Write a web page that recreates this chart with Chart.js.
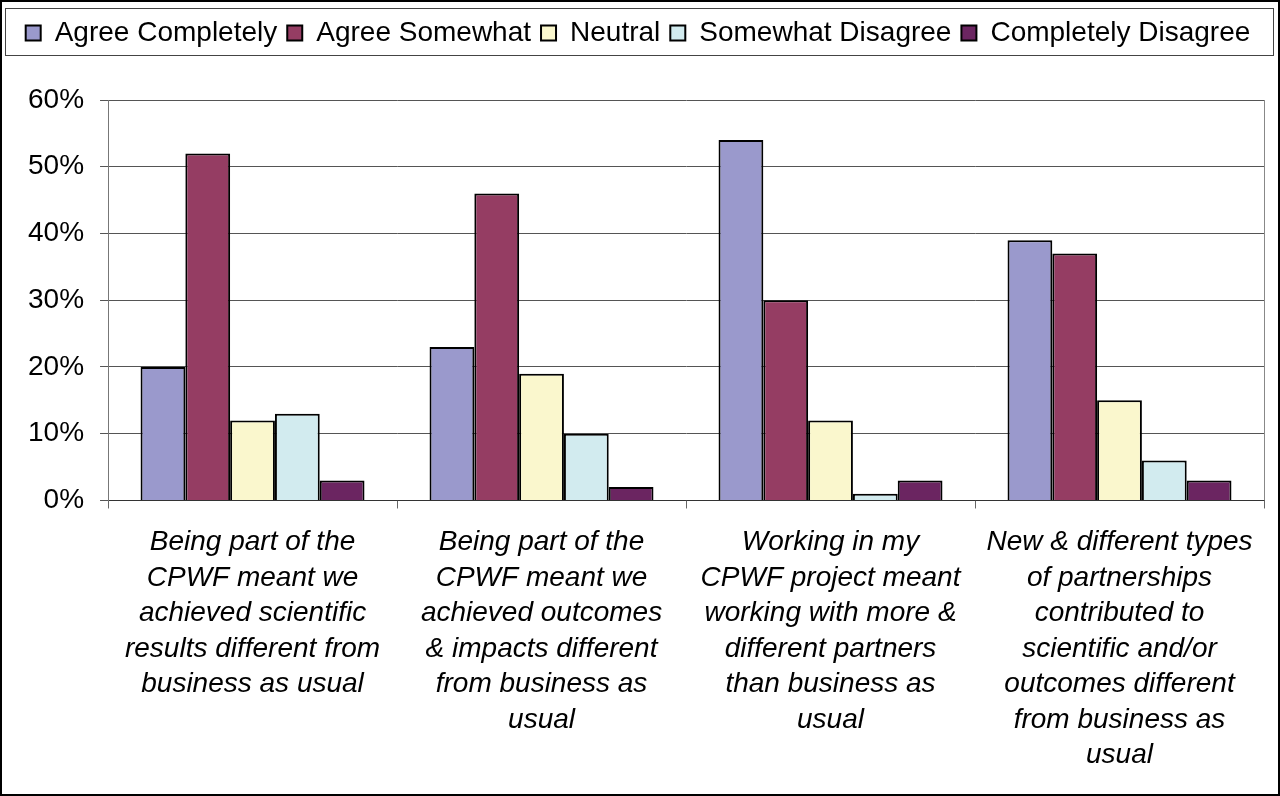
<!DOCTYPE html>
<html>
<head>
<meta charset="utf-8">
<script src="https://cdn.jsdelivr.net/npm/chart.js@4.4.1/dist/chart.umd.min.js"></script>
<style>
  html, body { margin: 0; padding: 0; background: #fff; }
  #wrap { width: 1280px; height: 796px; }
</style>
</head>
<body>
<div id="wrap"><canvas id="surveyChart" width="1280" height="796"></canvas></div>
<script>
const categories = [
    ['Being part of the', 'CPWF meant we', 'achieved scientific', 'results different from', 'business as usual'],
    ['Being part of the', 'CPWF meant we', 'achieved outcomes', '& impacts different', 'from business as', 'usual'],
    ['Working in my', 'CPWF project meant', 'working with more &', 'different partners', 'than business as', 'usual'],
    ['New & different types', 'of partnerships', 'contributed to', 'scientific and/or', 'outcomes different', 'from business as', 'usual']
];

const agreeCompletely = [20, 23, 54, 39];
const agreeSomewhat = [52, 46, 30, 37];
const neutral = [12, 19, 12, 15];
const somewhatDisagree = [13, 10, 1, 6];
const completelyDisagree = [3, 2, 3, 3];

const yTicks = [0, 10, 20, 30, 40, 50, 60];

const fontFamily = "'Liberation Sans', Arial, sans-serif";

// extra room under the legend, plus the boxes Excel draws
const frame = {
    id: 'frame',
    beforeInit(chart) {
        const fit = chart.legend.fit;
        chart.legend.fit = function () {
            fit.bind(chart.legend)();
            this.height += 43;
        };
    },
    afterDraw(chart) {
        const c = chart.ctx;
        const a = chart.chartArea;
        c.save();
        c.lineWidth = 2;
        c.strokeStyle = '#000';
        c.strokeRect(1, 1, chart.width - 2, chart.height - 2);
        c.lineWidth = 1;
        c.strokeStyle = '#444';
        c.strokeRect(5.5, 8.5, chart.width - 12, 47);
        c.strokeStyle = '#888';
        c.beginPath();
        c.moveTo(a.right + 0.5, a.top);
        c.lineTo(a.right + 0.5, a.bottom);
        c.stroke();
        c.restore();
    }
};

function series(label, data, color) {
    return {
        label: label,
        data: data,
        backgroundColor: color,
        borderColor: '#000',
        borderWidth: 2,
        borderSkipped: 'bottom',
        categoryPercentage: 0.775,
        barPercentage: 1.0
    };
}

const ctx = document.getElementById('surveyChart').getContext('2d');
const surveyChart = new Chart(ctx, {
    type: 'bar',
    data: {
        labels: categories,
        datasets: [
            series('Agree Completely', agreeCompletely, '#9a99cc'),
            series('Agree Somewhat', agreeSomewhat, '#953d63'),
            series('Neutral', neutral, '#faf7cd'),
            series('Somewhat Disagree', somewhatDisagree, '#d2ebef'),
            series('Completely Disagree', completelyDisagree, '#6b2561')
        ]
    },
    options: {
        responsive: false,
        animation: false,
        layout: {
            padding: { top: 9, left: 12, right: 16, bottom: 7 }
        },
        scales: {
            x: {
                grid: {
                    offset: true,
                    drawOnChartArea: false,
                    color: '#666',
                    tickLength: 8
                },
                border: { color: '#333', width: 1 },
                ticks: {
                    color: '#000',
                    padding: 16,
                    maxRotation: 0,
                    autoSkip: false,
                    font: { family: fontFamily, size: 28, style: 'italic', lineHeight: 1.268 }
                }
            },
            y: {
                min: 0,
                max: 60,
                afterBuildTicks: (axis) => {
                    axis.ticks = yTicks.map(v => ({ value: v }));
                },
                grid: {
                    color: '#555',
                    tickLength: 8
                },
                border: { color: '#777', width: 1 },
                ticks: {
                    color: '#000',
                    padding: 16,
                    font: { family: fontFamily, size: 28 },
                    callback: (v) => v + '%'
                }
            }
        },
        plugins: {
            legend: {
                position: 'top',
                labels: {
                    color: '#000',
                    boxWidth: 15,
                    boxHeight: 15,
                    padding: 10,
                    font: { family: fontFamily, size: 28 }
                }
            },
            tooltip: { enabled: false }
        }
    },
    plugins: [frame]
});
</script>
</body>
</html>
